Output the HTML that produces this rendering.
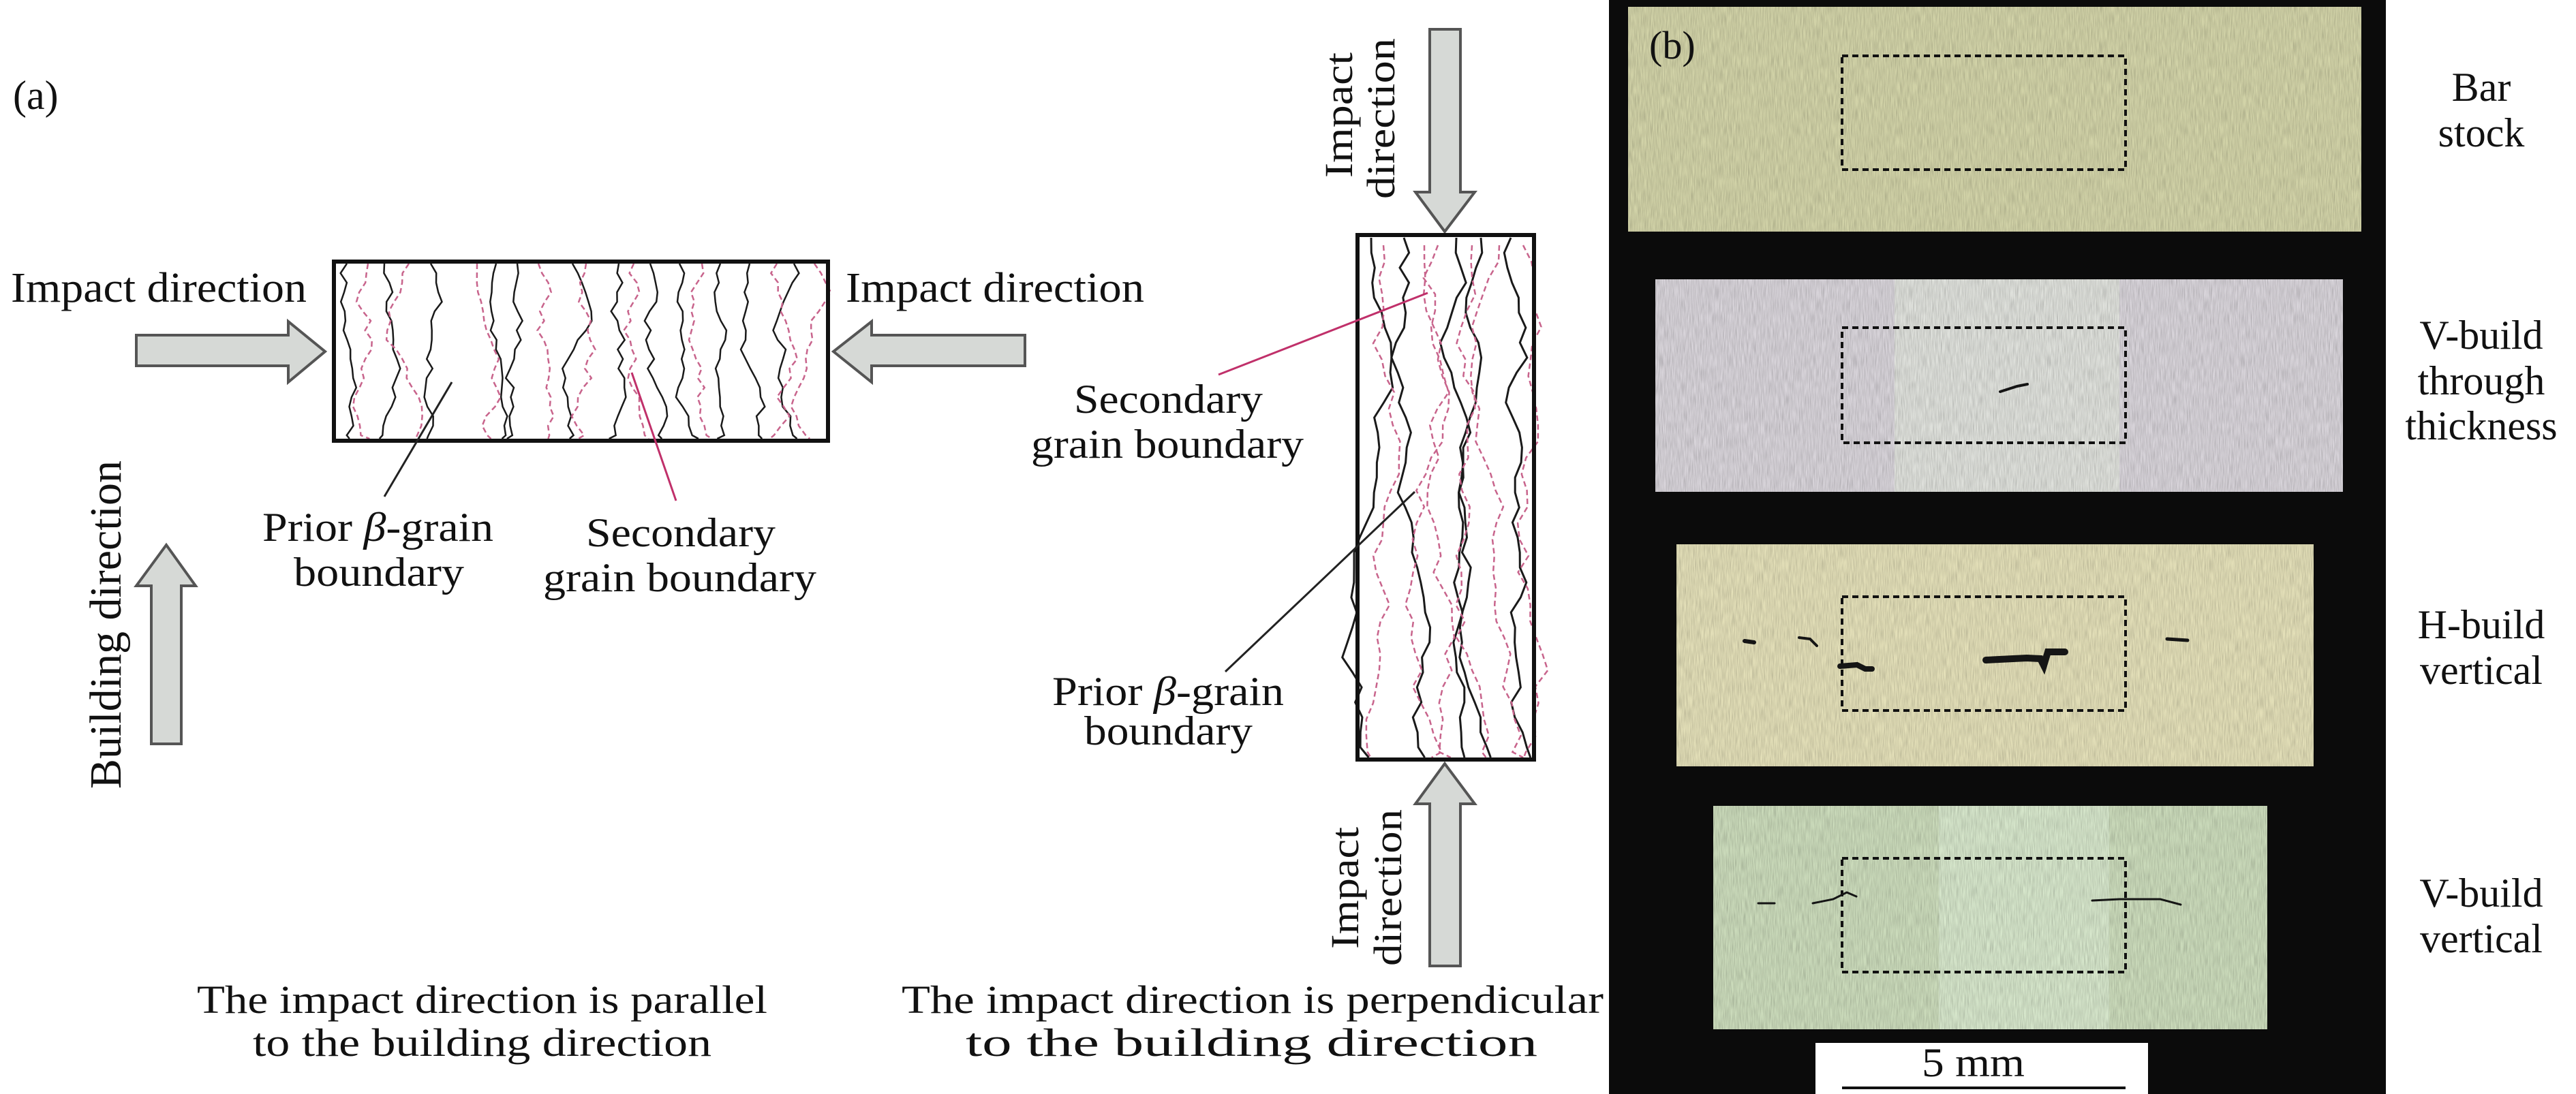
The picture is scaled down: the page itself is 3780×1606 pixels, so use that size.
<!DOCTYPE html>
<html><head><meta charset="utf-8"><style>
html,body{margin:0;padding:0;background:#fff;}
svg{display:block;}
text{font-family:"Liberation Serif",serif;fill:#111;}
</style></head><body>
<svg id="s" width="3780" height="1606" viewBox="0 0 3780 1606" xmlns="http://www.w3.org/2000/svg">
<defs>
<filter id="noise" x="0" y="0" width="100%" height="100%">
<feTurbulence type="fractalNoise" baseFrequency="0.9 0.05" numOctaves="2" seed="3" result="t"/>
<feColorMatrix in="t" type="matrix" values="0 0 0 0 0  0 0 0 0 0  0 0 0 0 0  0 0 0 -1.1 0.75" result="m"/>
<feComposite in="m" in2="SourceGraphic" operator="in"/>
</filter>
</defs>
<rect width="3780" height="1606" fill="#fff"/>

<text x="19" y="160" font-size="60">(a)</text>
<text x="16" y="443" font-size="62" textLength="434" lengthAdjust="spacingAndGlyphs">Impact direction</text>
<text x="1241" y="443" font-size="62" textLength="438" lengthAdjust="spacingAndGlyphs">Impact direction</text>

<polygon points="200,492 423,492 423,472 477,516 423,561 423,537 200,537" fill="#d6d9d6" stroke="#555" stroke-width="4"/>
<polygon points="1504,492 1279,492 1279,472 1223,516 1279,561 1279,537 1504,537" fill="#d6d9d6" stroke="#555" stroke-width="4"/>
<polygon points="222,1092 222,860 200,860 244,800 287,860 266,860 266,1092" fill="#d6d9d6" stroke="#555" stroke-width="4"/>
<text transform="translate(177,1158) rotate(-90)" font-size="66" textLength="482" lengthAdjust="spacingAndGlyphs">Building direction</text>

<g id="g1"></g>
<rect x="490" y="384" width="725" height="263" fill="none" stroke="#111" stroke-width="6"/>
<line x1="564" y1="729" x2="663" y2="561" stroke="#222" stroke-width="3"/>
<line x1="992" y1="735" x2="927" y2="547" stroke="#c0306a" stroke-width="3"/>
<text x="385" y="794" font-size="60" textLength="339" lengthAdjust="spacingAndGlyphs">Prior <tspan font-style="italic">β</tspan>-grain</text>
<text x="431" y="860" font-size="60" textLength="250" lengthAdjust="spacingAndGlyphs">boundary</text>
<text x="860" y="802" font-size="60" textLength="278" lengthAdjust="spacingAndGlyphs">Secondary</text>
<text x="797" y="868" font-size="60" textLength="401" lengthAdjust="spacingAndGlyphs">grain boundary</text>

<polygon points="2098,43 2143,43 2143,282 2164,282 2120,340 2077,282 2098,282" fill="#d6d9d6" stroke="#555" stroke-width="4"/>
<polygon points="2098,1418 2143,1418 2143,1180 2164,1180 2120,1121 2077,1180 2098,1180" fill="#d6d9d6" stroke="#555" stroke-width="4"/>
<text transform="translate(1984,261) rotate(-90)" font-size="58" textLength="184" lengthAdjust="spacingAndGlyphs">Impact</text>
<text transform="translate(2046,292) rotate(-90)" font-size="58" textLength="236" lengthAdjust="spacingAndGlyphs">direction</text>
<text transform="translate(1993,1393) rotate(-90)" font-size="58" textLength="179" lengthAdjust="spacingAndGlyphs">Impact</text>
<text transform="translate(2056,1418) rotate(-90)" font-size="58" textLength="230" lengthAdjust="spacingAndGlyphs">direction</text>
<g id="g2"></g>
<rect x="1992" y="345" width="259" height="770" fill="none" stroke="#111" stroke-width="6"/>
<line x1="1788" y1="550" x2="2095" y2="430" stroke="#c0306a" stroke-width="3"/>
<line x1="1798" y1="986" x2="2076" y2="722" stroke="#222" stroke-width="3"/>
<text x="1576" y="606" font-size="60" textLength="277" lengthAdjust="spacingAndGlyphs">Secondary</text>
<text x="1513" y="672" font-size="60" textLength="400" lengthAdjust="spacingAndGlyphs">grain boundary</text>
<text x="1544" y="1035" font-size="60" textLength="340" lengthAdjust="spacingAndGlyphs">Prior <tspan font-style="italic">β</tspan>-grain</text>
<text x="1591" y="1093" font-size="60" textLength="247" lengthAdjust="spacingAndGlyphs">boundary</text>

<text x="289" y="1487" font-size="58" textLength="837" lengthAdjust="spacingAndGlyphs">The impact direction is parallel</text>
<text x="371" y="1550" font-size="58" textLength="673" lengthAdjust="spacingAndGlyphs">to the building direction</text>
<text x="1323" y="1487" font-size="58" textLength="1030" lengthAdjust="spacingAndGlyphs">The impact direction is perpendicular</text>
<text x="1417" y="1550" font-size="58" textLength="839" lengthAdjust="spacingAndGlyphs">to the building direction</text>

<rect x="2361" y="0" width="1140" height="1606" fill="#0b0b0b"/>
<rect x="2389" y="10" width="1076" height="330" fill="#d2d3a8"/>
<rect x="2389" y="10" width="1076" height="330" fill="#6f6f50" filter="url(#noise)" opacity="0.3"/>
<rect x="2429" y="410" width="1009" height="312" fill="#d8d4da"/>
<rect x="2780" y="410" width="330" height="312" fill="#dfe1dc"/>
<rect x="2429" y="410" width="1009" height="312" fill="#8a7878" filter="url(#noise)" opacity="0.3"/>
<rect x="2460" y="799" width="935" height="326" fill="#e3dfb8"/>
<rect x="2460" y="799" width="935" height="326" fill="#7a7660" filter="url(#noise)" opacity="0.3"/>
<rect x="2514" y="1183" width="813" height="328" fill="#cbdbbb"/>
<rect x="2845" y="1183" width="250" height="328" fill="#d6e6cb"/>
<rect x="2514" y="1183" width="813" height="328" fill="#6c7a62" filter="url(#noise)" opacity="0.3"/>
<g fill="none" stroke="#111" stroke-width="4" stroke-dasharray="9,6">
<rect x="2703" y="82" width="416" height="167"/>
<rect x="2703" y="481" width="416" height="169"/>
<rect x="2703" y="876" width="416" height="167"/>
<rect x="2703" y="1260" width="416" height="167"/>
</g>
<g fill="none" stroke="#151515" stroke-linecap="round">
<path d="M2935,575 l25,-8 l15,-3" stroke-width="4"/>
<path d="M2700,978 l25,-2 l12,6 l10,0" stroke-width="8"/>
<path d="M2914,969 l60,-3 l20,1 l5,10 l6,-20 l25,0" stroke-width="10"/>
<path d="M3180,938 l30,2" stroke-width="5"/>
<path d="M2560,941 l14,2" stroke-width="6"/>
<path d="M2640,936 l16,2 l10,10" stroke-width="4"/>
<path d="M2580,1326 l24,0 M2660,1326 l30,-6 l20,-10 l14,6 M3070,1322 l40,-2 l60,0 l30,8" stroke-width="3"/>
</g>
<text x="2420" y="86" font-size="58">(b)</text>
<rect x="2664" y="1531" width="488" height="75" fill="#fff"/>
<text x="2820" y="1580" font-size="60" textLength="151" lengthAdjust="spacingAndGlyphs">5 mm</text>
<line x1="2703" y1="1597" x2="3119" y2="1597" stroke="#111" stroke-width="4"/>

<g font-size="60" text-anchor="middle">
<text x="3641" y="148">Bar</text>
<text x="3641" y="215">stock</text>
<text x="3641" y="512">V-build</text>
<text x="3641" y="579">through</text>
<text x="3641" y="645">thickness</text>
<text x="3641" y="937">H-build</text>
<text x="3641" y="1004">vertical</text>
<text x="3641" y="1331">V-build</text>
<text x="3641" y="1398">vertical</text>
</g>
</svg>
<script>
(function(){
var seed=7;function r(){seed=(seed*16807)%2147483647;return seed/2147483647;}
var NS="http://www.w3.org/2000/svg";
function vline(g,x,y0,y1,amp,step,col,w,dash){
  var d="M"+x.toFixed(1)+","+y0;var cx=x;
  for(var y=y0+step;y<y1;y+=step){cx+= (r()-0.5)*amp; cx+= (x-cx)*0.15; d+=" L"+cx.toFixed(1)+","+y.toFixed(1);}
  d+=" L"+(cx+(r()-0.5)*amp).toFixed(1)+","+y1;
  var p=document.createElementNS(NS,"path");p.setAttribute("d",d);p.setAttribute("fill","none");
  p.setAttribute("stroke",col);p.setAttribute("stroke-width",w);if(dash)p.setAttribute("stroke-dasharray",dash);
  g.appendChild(p);
}
var g1=document.getElementById("g1");
[509,564,632,728,759,840,908,954,997,1057,1100,1165].forEach(function(x){vline(g1,x,387,644,22,14,"#1a1a1a",2.5);});
[540,600,700,790,860,930,1030,1140,1195].forEach(function(x){vline(g1,x,387,644,26,14,"#c8648c",2.5,"8,5");});
var g2=document.getElementById("g2");
[2012,2060,2137,2173,2217].forEach(function(x){vline(g2,x,349,1112,30,22,"#1a1a1a",3);});
[2030,2090,2110,2160,2200,2235].forEach(function(x){vline(g2,x,360,1112,34,24,"#c8648c",2.5,"8,5");});
})();
</script>
</body></html>
